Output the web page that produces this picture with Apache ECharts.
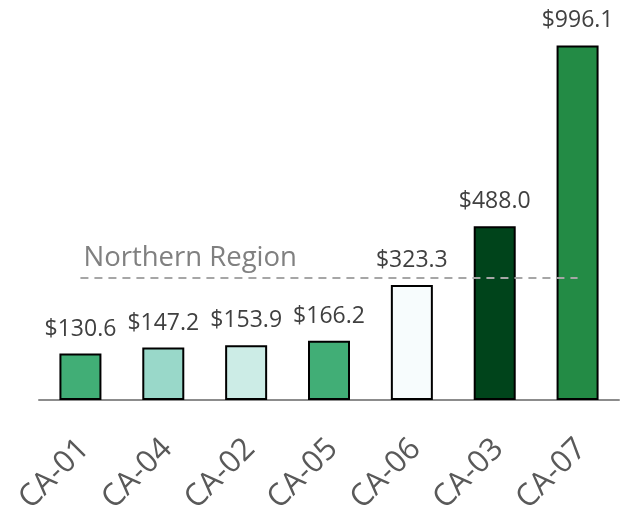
<!DOCTYPE html>
<html>
<head>
<meta charset="utf-8">
<script src="https://cdn.jsdelivr.net/npm/echarts@6/dist/echarts.min.js"></script>
<style>
  html, body { margin: 0; padding: 0; background: #fff; }
  #chart { width: 629px; height: 512px; }
</style>
</head>
<body>
<div id="chart"></div>
<script>
var categories = ['CA-01', 'CA-04', 'CA-02', 'CA-05', 'CA-06', 'CA-03', 'CA-07'];
var values = [130.6, 147.2, 153.9, 166.2, 323.3, 488.0, 996.1];
var barColors = ['#41ae76', '#99d8c9', '#ccece6', '#41ae76', '#f7fcfd', '#00441b', '#238b45'];
var regionName = 'Northern Region';
var regionValue = 343.6;

var myChart = echarts.init(document.getElementById('chart'));
var option = {
    animation: false,
    grid: {
        left: 39,
        right: 10,
        top: 44,
        bottom: 112,
        containLabel: false,
        outerBoundsMode: 'none'
    },
    xAxis: {
        type: 'category',
        data: categories,
        axisTick: { show: false },
        axisLine: {
            show: true,
            lineStyle: { color: '#8c8c8c', width: 2 }
        },
        axisLabel: {
            rotate: 45,
            margin: 26,
            verticalAlign: 'top',
            padding: [0, 10, 0, 0],
            fontFamily: 'Open Sans',
            fontSize: 31,
            color: '#595959'
        }
    },
    yAxis: {
        type: 'value',
        min: 0,
        max: 1000,
        show: false
    },
    series: [
        {
            type: 'bar',
            barWidth: 42,
            data: values.map(function (v, i) {
                return { value: v, itemStyle: { color: barColors[i] } };
            }),
            itemStyle: {
                borderColor: '#000',
                borderWidth: 2
            },
            label: {
                show: true,
                position: 'top',
                distance: 13,
                fontFamily: 'Open Sans',
                fontSize: 23,
                color: '#404040',
                formatter: function (p) {
                    return '$' + p.value.toFixed(1);
                }
            },
            markLine: {
                silent: true,
                symbol: 'none',
                lineStyle: {
                    color: '#a6a6a6',
                    type: [8, 6],
                    width: 2
                },
                label: {
                    show: true,
                    position: 'insideStartTop',
                    distance: [3, 6],
                    formatter: regionName,
                    fontFamily: 'Open Sans',
                    fontSize: 27.5,
                    color: '#808080'
                },
                data: [
                    [
                        { coord: [0, regionValue] },
                        { coord: [6, regionValue] }
                    ]
                ]
            }
        }
    ]
};
myChart.setOption(option);
</script>
</body>
</html>
